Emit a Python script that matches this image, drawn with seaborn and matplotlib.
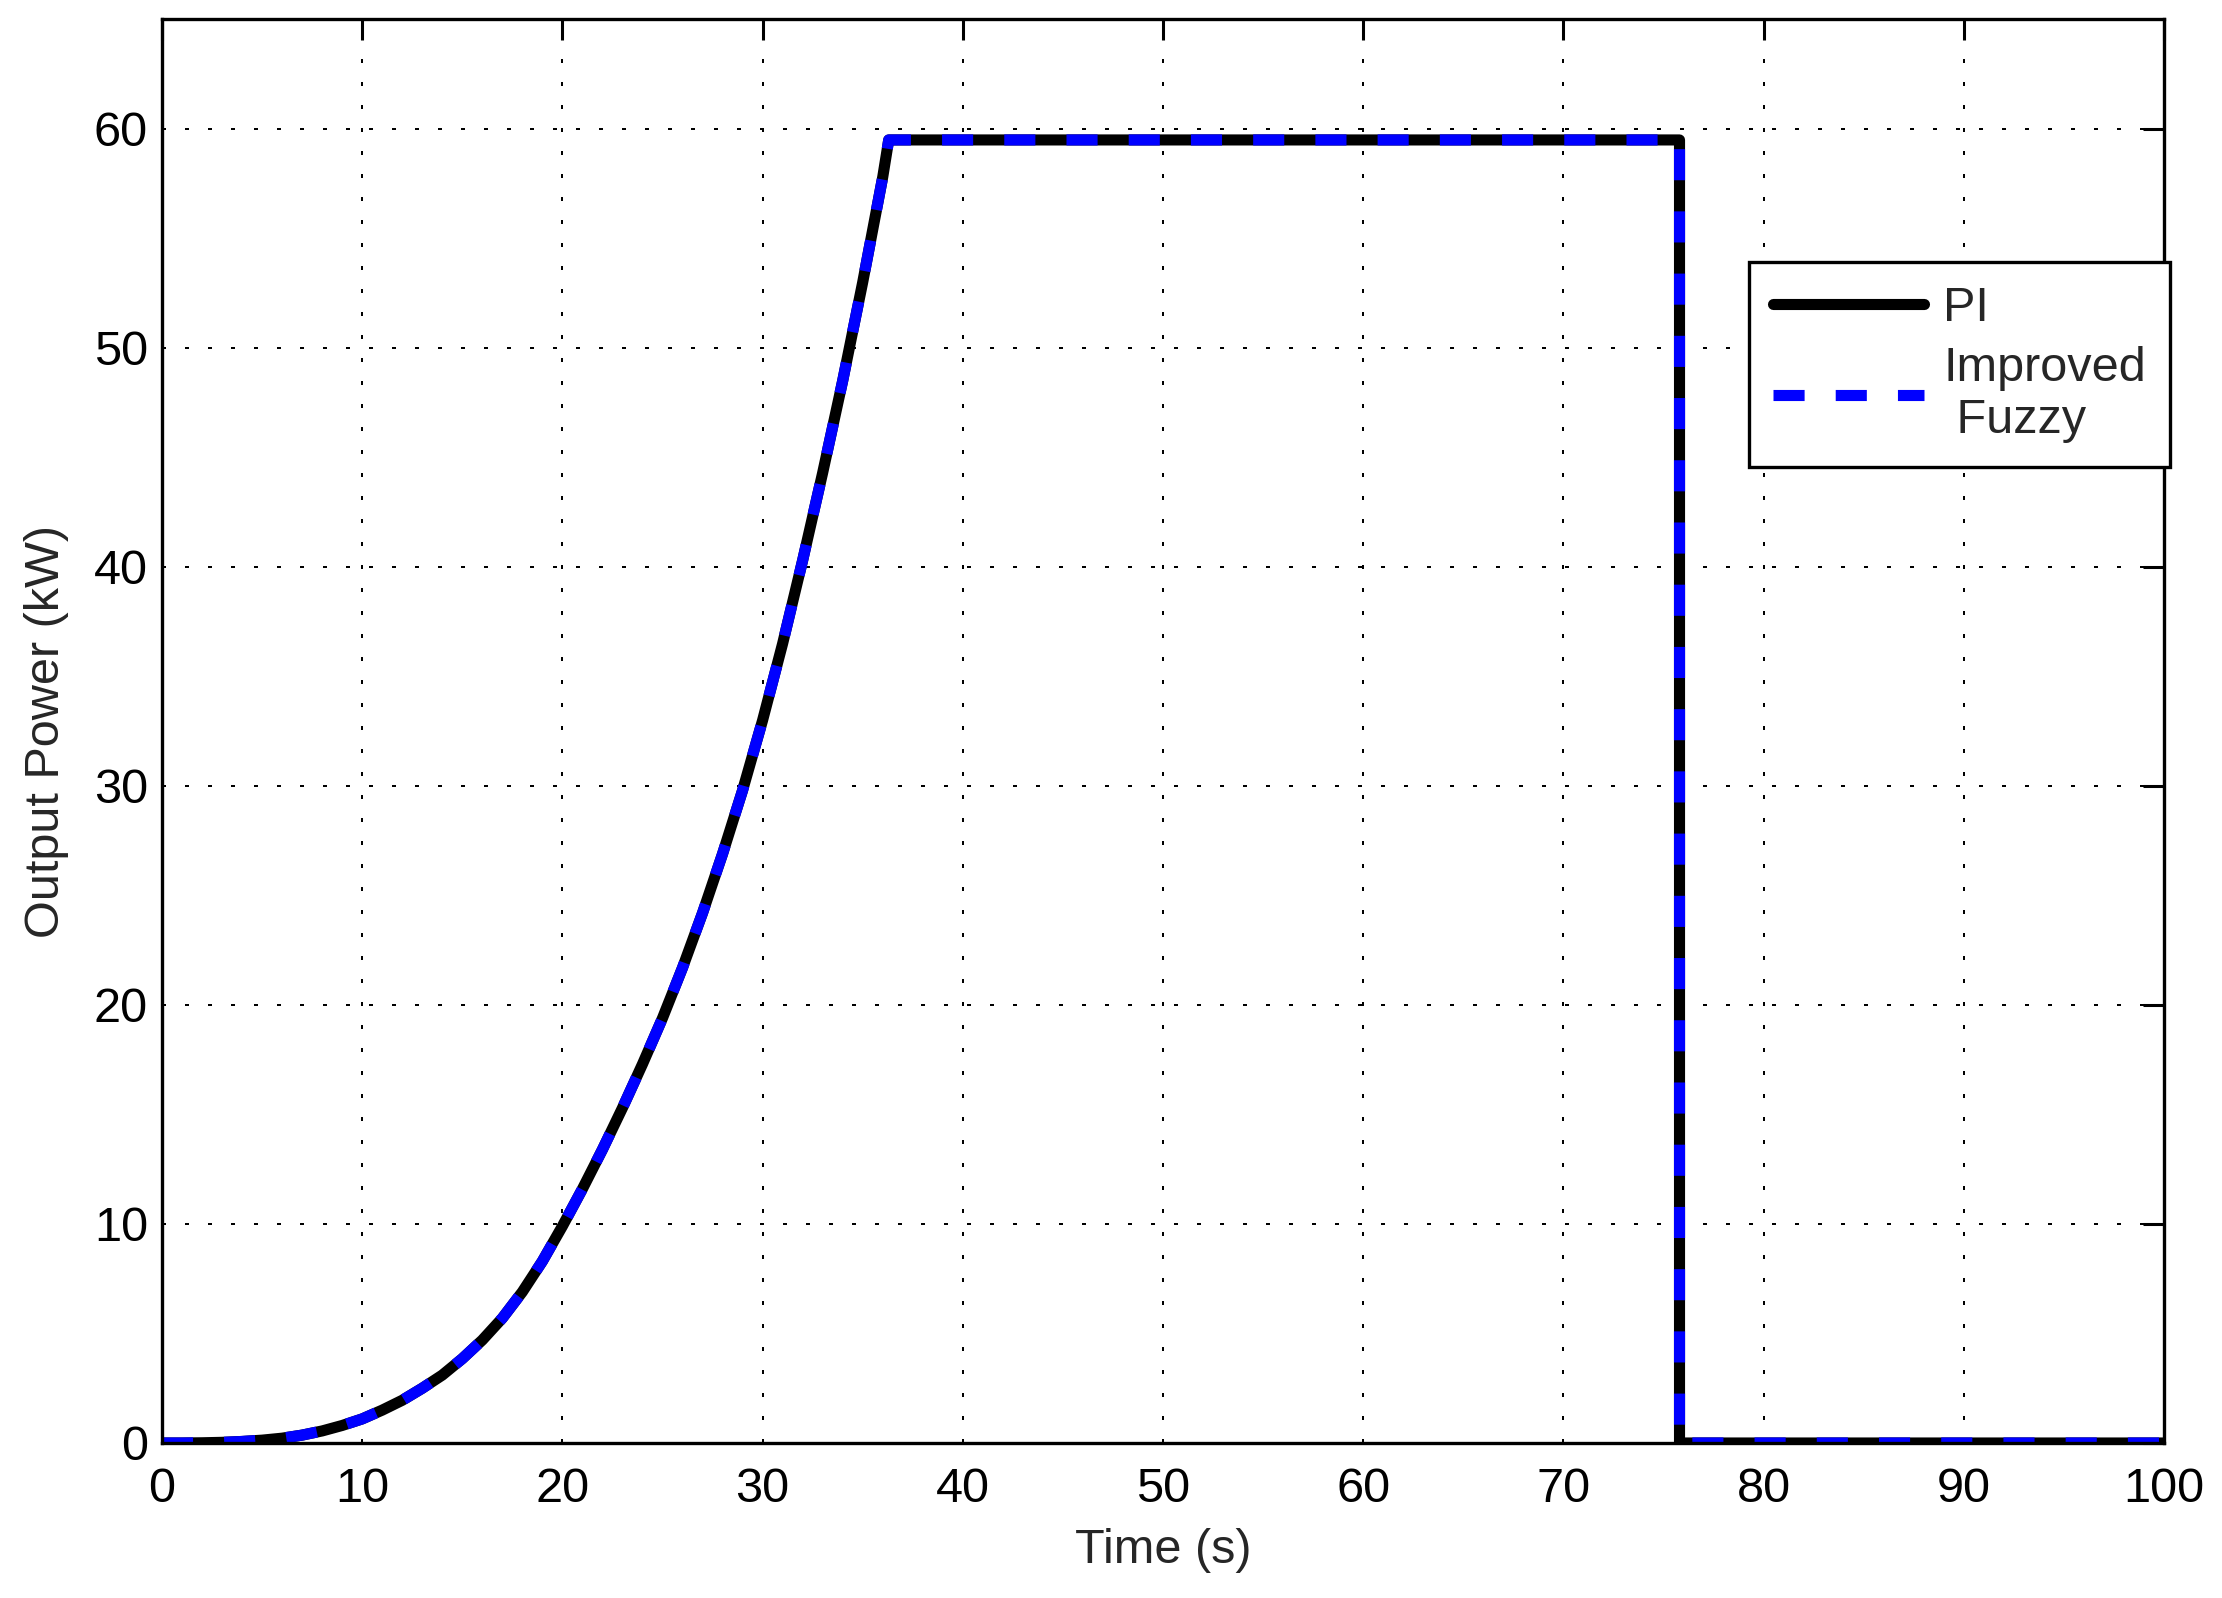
import matplotlib
matplotlib.use("Agg")
import matplotlib.pyplot as plt
import numpy as np
import pandas as pd
import seaborn as sns

# ramp (1 s steps), then plateau and cut-off
ramp_t = [0, 1, 2, 3, 4, 5, 6, 7, 8, 9, 10, 11, 12, 13, 14, 15, 16, 17, 18, 19,
          20, 21, 22, 23, 24, 25, 26, 27, 28, 29, 30, 31, 32, 33, 34, 35, 36, 36.3]
ramp_p = [0, 0, 0.01, 0.03, 0.07, 0.13, 0.22, 0.36, 0.55, 0.8, 1.1, 1.5, 1.95,
          2.5, 3.1, 3.85, 4.7, 5.7, 6.9, 8.3, 9.9, 11.6, 13.4, 15.3, 17.3, 19.4,
          21.7, 24.2, 26.9, 29.8, 33.0, 36.5, 40.3, 44.3, 48.5, 53.0, 57.8, 59.5]
tail_t = [75.8, 75.8, 100]
tail_p = [59.5, 0, 0]

time_s = ramp_t + tail_t
pi_kw = ramp_p + tail_p
fuzzy_kw = ramp_p + tail_p

x_ticks = [0, 10, 20, 30, 40, 50, 60, 70, 80, 90, 100]
y_ticks = [0, 10, 20, 30, 40, 50, 60]

df = pd.DataFrame({"Time": time_s, "PI": pi_kw, "Fuzzy": fuzzy_kw})

sns.set_style("white")
plt.rcParams["font.family"] = ["Liberation Sans", "DejaVu Sans"]
fs = 35

fig = plt.figure(figsize=(22.22, 15.98), dpi=100)
ax = fig.add_axes([0.0729, 0.0970, 0.9010, 0.8908])

sns.lineplot(data=df, x="Time", y="PI", ax=ax, color="black", lw=8,
             estimator=None, sort=False, label="PI", solid_joinstyle="round")
sns.lineplot(data=df, x="Time", y="Fuzzy", ax=ax, color="#0000ff", lw=8,
             estimator=None, sort=False, label="Improved\n Fuzzy",
             linestyle=(0, (2.8, 2.8)), dash_capstyle="butt")

ax.set_xlim(0, 100)
ax.set_ylim(0, 65)
ax.set_xticks(x_ticks)
ax.set_yticks(y_ticks)
ax.tick_params(direction="in", length=15, width=2.2, labelsize=fs,
               top=True, right=True, colors="black")
ax.tick_params(axis="x", pad=17)
ax.tick_params(axis="y", pad=10)
for s in ax.spines.values():
    s.set_linewidth(2.4)
    s.set_color("black")

ax.grid(True, color="black", linestyle=(0, (2, 9.5)), lw=1.44)
ax.set_xlabel("Time (s)", fontsize=fs, labelpad=12)
ax.set_ylabel("Output Power (kW)", fontsize=fs, labelpad=18)

leg = ax.legend(loc="upper left", bbox_to_anchor=(0.787, 0.836),
                bbox_transform=fig.transFigure, fontsize=fs, frameon=True,
                fancybox=False, edgecolor="black", framealpha=1,
                handlelength=3.1, handletextpad=0.4, borderpad=0.5,
                labelspacing=0.3, borderaxespad=0)
leg.get_frame().set_linewidth(2.4)

fig.savefig("out.png", dpi=100, facecolor="white")
